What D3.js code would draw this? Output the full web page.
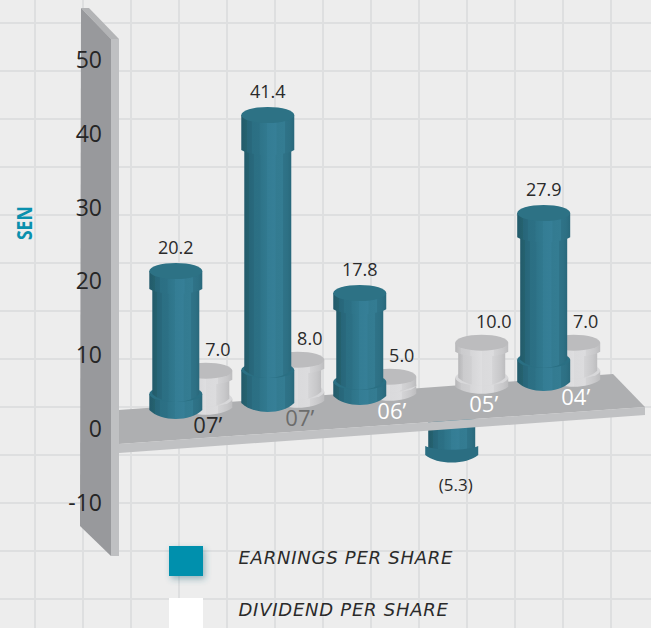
<!DOCTYPE html>
<html>
<head>
<meta charset="utf-8">
<script src="https://cdn.jsdelivr.net/npm/d3@7"></script>
<style>
html,body{margin:0;padding:0;background:#ededed;overflow:hidden}
text{font-family:"Open Sans",sans-serif;fill:#2a2a2a}
</style>
</head>
<body>
<svg id="chart" width="651" height="628"></svg>
<script>
// Figures per financial year
const years = ["07\u2019", "07\u2019", "06\u2019", "05\u2019", "04\u2019"];
const earnings = [20.2, 41.4, 17.8, -5.3, 27.9];
const dividends = [7.0, 8.0, 5.0, 10.0, 7.0];
const axisTicks = [50, 40, 30, 20, 10, 0, -10];
const legendLabels = ["EARNINGS PER SHARE", "DIVIDEND PER SHARE"];
const yearColours = ["#2a2a2a", "#6c6c6c", "#ffffff", "#ffffff", "#ffffff"];

const svg = d3.select("#chart");
const defs = svg.append("defs");

function gradient(id, stops) {
  const g = defs.append("linearGradient").attr("id", id);
  stops.forEach(([o, c]) => g.append("stop").attr("offset", o).attr("stop-color", c));
}
// Stepped stops give the cylinders their faintly fluted shading
gradient("teal", [[0,"#225a6b"],[.1,"#25626f"],[.11,"#276679"],[.2,"#29697d"],[.21,"#2b6f83"],[.34,"#2c7085"],[.35,"#2e7489"],[.48,"#31798f"],[.49,"#347d94"],[.66,"#367f97"],[.67,"#337b91"],[.82,"#347c92"],[.83,"#2f7388"],[.92,"#2d7084"],[1,"#29687b"]]);
gradient("silver", [[0,"#b6b6b8"],[.1,"#c6c6c8"],[.11,"#cbcbcd"],[.28,"#d0d0d2"],[.29,"#d6d6d8"],[.5,"#dedee0"],[.51,"#dadadc"],[.72,"#dcdcde"],[.73,"#d4d4d6"],[.9,"#c8c8ca"],[1,"#bdbdbf"]]);
const shadow = defs.append("filter").attr("id", "soft").attr("x", "-30%").attr("y", "-30%").attr("width", "170%").attr("height", "170%");
shadow.append("feDropShadow").attr("dx", 2).attr("dy", 3).attr("stdDeviation", 3).attr("flood-color", "#2f6d80").attr("flood-opacity", .45);

// Background grid
const gridX = d3.range(35, 651, 48), gridY = d3.range(23, 628, 48);
svg.append("g").attr("stroke", "#dedfe0").attr("stroke-width", 2)
  .call(g => g.selectAll(".v").data(gridX).join("line").attr("x1", d => d).attr("x2", d => d).attr("y1", 0).attr("y2", 628))
  .call(g => g.selectAll(".h").data(gridY).join("line").attr("x1", 0).attr("x2", 651).attr("y1", d => d).attr("y2", d => d));

// Scales: group position, floor height along the receding platform, axis and bar rise
const groupX = d3.scalePoint().domain(d3.range(years.length)).range([175.8, 543.7]);
const floorY = d3.scaleLinear().domain([175.8, 543.7]).range([410, 382]);
const axisY = d3.scaleLinear().domain([50, -10]).range([60, 503]);
const rise = d3.scaleLinear()
  .domain([-5.3, 0, 5, 7, 8, 10, 17.8, 20.2, 27.9, 41.4])
  .range([-66, 0, 17, 37, 41, 44, 103, 139, 169, 288]);
const collar = d3.scaleLinear().domain([0, 41.4]).range([0, 33]);

const groupShift = 30, capRx = 26.5, shaftRx = 23.5, topRy = 8;

// Back wall carrying the value axis
const wall = svg.append("g");
const outline = (pts, fill) => wall.append("path").attr("d", d3.line()(pts)).attr("fill", fill);
outline([[81,8],[89,8],[119,39],[111,39]], "#b3b4b6");
outline([[81,8],[111,39],[111,556],[80,526]], "#98999c");
outline([[111,39],[119,39],[119,556],[111,556]], "#bfc0c2");

// Upright cylinder with a cap and a foot; top and base are the axis centres of each end
function cylinder(g, cx, top, base, capH, footH, rBottom, fill, capFill, ledgeFill) {
  const body = (rx, y0, y1, ry) => {
    const p = d3.path();
    p.moveTo(cx - rx, y0);
    p.lineTo(cx + rx, y0);
    p.lineTo(cx + rx, y1);
    p.bezierCurveTo(cx + rx * .55, y1 + ry * 1.33, cx - rx * .55, y1 + ry * 1.33, cx - rx, y1);
    p.closePath();
    return p.toString();
  };
  g.append("path").attr("d", body(capRx, base - footH, base, rBottom)).attr("fill", fill);
  g.append("ellipse").attr("cx", cx).attr("cy", base - footH).attr("rx", capRx).attr("ry", topRy).attr("fill", ledgeFill);
  g.append("path").attr("d", body(shaftRx, top + capH, base - footH, 8)).attr("fill", fill);
  g.append("path").attr("d", body(capRx, top, top + capH, 5)).attr("fill", fill);
  g.append("ellipse").attr("cx", cx).attr("cy", top).attr("rx", capRx).attr("ry", topRy).attr("fill", capFill);
}

// Bars that fall below zero sit behind the platform
const under = svg.append("g");
earnings.forEach((v, i) => {
  if (v >= 0) return;
  const cx = groupX(i), top = floorY(cx), base = top - rise(v);
  const g = under.append("g");
  g.append("rect").attr("x", cx - shaftRx).attr("y", top).attr("width", shaftRx * 2).attr("height", base - top).attr("fill", "url(#teal)");
  const foot = d3.path();
  foot.moveTo(cx - capRx, base - 9);
  foot.bezierCurveTo(cx - capRx * .55, base - 9 + 5, cx + capRx * .55, base - 9 + 5, cx + capRx, base - 9);
  foot.lineTo(cx + capRx, base);
  foot.bezierCurveTo(cx + capRx * .55, base + 10, cx - capRx * .55, base + 10, cx - capRx, base);
  foot.closePath();
  g.append("path").attr("d", foot.toString()).attr("fill", "#2b6e82");
});

// Platform at the zero line
const platform = svg.append("g");
platform.append("path").attr("d", d3.line()([[119,410],[613,374],[645,407],[119,444]])).attr("fill", "#aeafb1");
platform.append("path").attr("d", d3.line()([[119,444],[645,407],[645,415],[119,453]])).attr("fill", "#c0c1c3");

const bars = svg.append("g");
years.forEach((_, i) => {
  const d = dividends[i], dx = groupX(i) + groupShift, dBase = floorY(dx);
  cylinder(bars.append("g"), dx, dBase - rise(d), dBase, 9, 9, 7, "url(#silver)", "#bcbcbe", "#d8d8da");
  const e = earnings[i];
  if (e >= 0) {
    const ex = groupX(i), eBase = floorY(ex);
    cylinder(bars.append("g"), ex, eBase - rise(e), eBase, collar(e) + 2, collar(e), 9, "url(#teal)", "#2d7285", "#2a6f83");
  }
});

// Value axis labels
const axis = d3.axisLeft(axisY).tickValues(axisTicks).tickSize(0).tickPadding(0).tickFormat(d3.format("d"));
svg.append("g").attr("transform", "translate(102,0)").call(axis)
  .call(g => g.select(".domain").remove())
  .selectAll("text").text(d => String(d)).style("font-family", '"Open Sans",sans-serif').style("font-size", "23px").style("fill", "#262626");

// Value labels above each cylinder
const labels = svg.append("g").attr("text-anchor", "middle").style("font-size", "18px");
earnings.forEach((v, i) => {
  const cx = groupX(i), base = floorY(cx);
  if (v >= 0) {
    labels.append("text").attr("x", cx).attr("y", base - rise(v) - topRy - 9).text(v.toFixed(1));
  } else {
    labels.append("text").attr("x", cx + 4).attr("y", base - rise(v) + 36).style("font-size", "17px").text(`(${Math.abs(v).toFixed(1)})`);
  }
});
dividends.forEach((v, i) => {
  const cx = groupX(i) + groupShift, base = floorY(cx);
  labels.append("text").attr("x", cx + 12).attr("y", base - rise(v) - topRy - 7).text(v.toFixed(1));
});

// Year labels on the platform edge
svg.append("g").attr("text-anchor", "middle").style("font-size", "22px")
  .selectAll("text").data(years).join("text")
  .attr("x", (d, i) => groupX(i) + groupShift + 2)
  .attr("y", (d, i) => floorY(groupX(i) + groupShift) + 25)
  .style("fill", (d, i) => yearColours[i])
  .text(d => d);

// Axis title
svg.append("text").attr("transform", "translate(32,240) rotate(-90) scale(.92,1.15)")
  .style("font-size", "19px").style("font-weight", 700).style("fill", "#0a90ad").text("SEN");

// Legend
const legendFill = ["#0090ad", "#ffffff"];
const legendY = d3.scalePoint().domain(d3.range(2)).range([546, 598]);
const legend = svg.append("g");
legendLabels.forEach((t, i) => {
  legend.append("rect").attr("x", 169).attr("y", legendY(i)).attr("width", 34).attr("height", 30)
    .attr("fill", legendFill[i]).attr("filter", i === 0 ? "url(#soft)" : null);
  legend.append("text").attr("x", 238.5).attr("y", legendY(i) + 17.5)
    .style("font-family", '"DejaVu Sans",sans-serif').style("font-size", "18px").style("letter-spacing", ".75px").style("font-style", "italic").text(t);
});
</script>
</body>
</html>
